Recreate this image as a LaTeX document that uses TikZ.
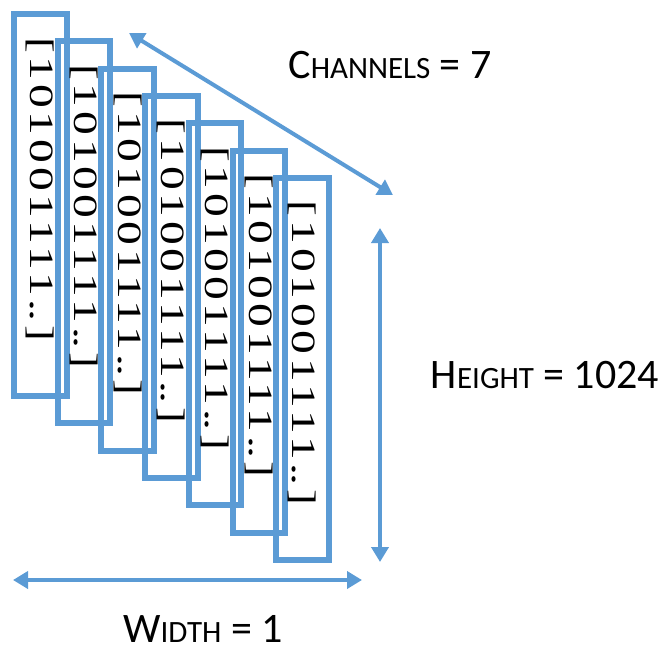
\documentclass[tikz,border=0pt]{standalone}
\usepackage{fontspec}
\usepackage{graphicx}
\usepackage{xcolor}
\definecolor{chanblue}{RGB}{91,155,213}
\newfontfamily\bitfont[LetterSpace=8]{Liberation Serif}
\newfontfamily\capfont{Carlito}
\usetikzlibrary{arrows.meta, positioning}
\newcommand{\smallcap}[1]{{\fontsize{31}{31}\selectfont #1}}
\newcommand{\bitrow}{\scalebox{1.4}[1]{[101001111.\kern-1.5pt.]}}
\tikzset{
  chanbox/.style={
    rectangle, draw=chanblue, line width=6pt, rotate=-90,
    minimum height=52.5pt, text width=336pt, inner xsep=23pt, inner ysep=0pt,
    align=left, font=\bitfont\fontsize{34}{34}\selectfont
  },
  dimarrow/.style={line width=4pt, color=chanblue,
    {Triangle[length=15pt,width=17pt]}-{Triangle[length=15pt,width=17pt]}},
  dimlabel/.style={font=\capfont\fontsize{42}{42}\selectfont, inner sep=0pt},
}

\begin{document}
\begin{tikzpicture}[x=1pt, y=-1pt]
  \useasboundingbox (0,0) rectangle (663,649);

  % --- Canales (uno detras de otro) ---
  \node (ch1) [chanbox] at (40.3,205) {\bitrow};
  \node (ch2) [chanbox] at (84.0,232.3) {\bitrow};
  \node (ch3) [chanbox] at (127.7,259.6) {\bitrow};
  \node (ch4) [chanbox] at (171.4,286.9) {\bitrow};
  \node (ch5) [chanbox] at (215.1,314.2) {\bitrow};
  \node (ch6) [chanbox] at (258.8,341.5) {\bitrow};
  \node (ch7) [chanbox] at (302.5,368.8) {\bitrow};

  % --- Extremos de las flechas ---
  \coordinate (chanA) at (129,33);
  \coordinate (chanB) at (393,195);
  \coordinate (heightA) at (380,228);
  \coordinate (heightB) at (380,562);
  \coordinate (widthA) at (13,580);
  \coordinate (widthB) at (362,580);

  % --- Flechas de dimension ---
  \draw[dimarrow] (chanA) -- (chanB);
  \draw[dimarrow] (heightA) -- (heightB);
  \draw[dimarrow] (widthA) -- (widthB);

  % --- Etiquetas ---
  \node (chanlabel) [dimlabel] at (390,65) {C\smallcap{HANNELS} = 7};
  \node (heightlabel) [dimlabel] at (545,375) {H\smallcap{EIGHT} = 1024};
  \node (widthlabel) [dimlabel] at (203,629) {W\smallcap{IDTH} = 1};

\end{tikzpicture}
\end{document}
